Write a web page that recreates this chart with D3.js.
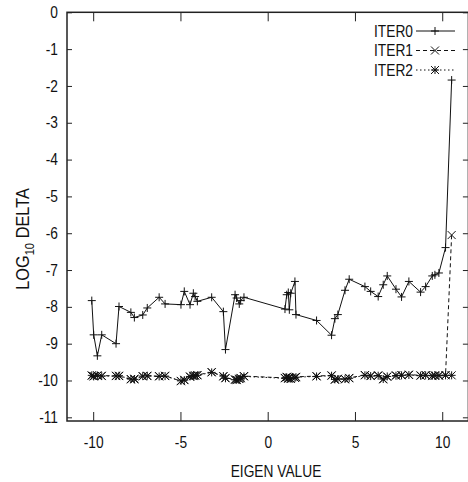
<!DOCTYPE html>
<html>
<head>
<meta charset="utf-8">
<script src="https://cdn.jsdelivr.net/npm/d3@7"></script>
<style>
  body { margin: 0; background: #fff; }
  svg { display: block; }
  text { font-family: "Liberation Sans", Arial, sans-serif; fill: #111; }
</style>
</head>
<body>
<div id="chart"></div>
<script>
// eigen values (x) shared by all three iterations
const eigen = [-10.08, -9.97, -9.76, -9.51, -8.69, -8.52, -7.84, -7.64, -7.16, -6.90,
  -6.22, -5.88, -4.97, -4.78, -4.45, -4.26, -4.16, -4.03, -3.21, -2.54,
  -2.42, -1.87, -1.78, -1.63, -1.55, -1.36, 0.99, 1.09, 1.18, 1.24,
  1.32, 1.56, 1.62, 2.80, 3.66, 3.85, 4.02, 4.43, 4.67, 5.57,
  5.90, 6.33, 6.62, 6.85, 7.35, 7.67, 8.09, 8.76, 9.05, 9.43,
  9.58, 9.81, 10.19, 10.54];

const iter0 = [-7.83, -8.76, -9.33, -8.76, -9.00, -7.99, -8.15, -8.29, -8.22, -8.03,
  -7.74, -7.92, -7.94, -7.58, -7.94, -7.63, -7.72, -7.85, -7.74, -8.13,
  -9.16, -7.67, -7.76, -7.92, -7.83, -7.74, -8.06, -7.67, -7.61, -8.08,
  -7.63, -7.31, -8.21, -8.37, -8.77, -8.32, -8.21, -7.55, -7.25, -7.45,
  -7.58, -7.72, -7.40, -7.16, -7.52, -7.73, -7.31, -7.60, -7.45, -7.16,
  -7.13, -7.08, -6.39, -1.84];

const iter1 = [-9.87, -9.88, -9.86, -9.87, -9.87, -9.88, -9.97, -9.95, -9.89, -9.88,
  -9.88, -9.87, -10.02, -9.98, -9.90, -9.88, -9.86, -9.85, -9.77, -9.89,
  -9.93, -9.97, -9.99, -9.95, -9.93, -9.88, -9.93, -9.90, -9.95, -9.92,
  -9.96, -9.92, -9.90, -9.88, -9.86, -9.98, -9.95, -9.97, -9.93, -9.85,
  -9.87, -9.86, -9.97, -9.90, -9.86, -9.85, -9.84, -9.86, -9.85, -9.88,
  -9.87, -9.86, -9.85, -6.05];

const iter2 = [-9.86, -9.89, -9.87, -9.88, -9.88, -9.87, -9.96, -9.97, -9.88, -9.87,
  -9.89, -9.88, -10.01, -9.99, -9.89, -9.87, -9.87, -9.86, -9.78, -9.88,
  -9.94, -9.98, -9.98, -9.96, -9.94, -9.89, -9.94, -9.91, -9.94, -9.93,
  -9.95, -9.93, -9.91, -9.89, -9.87, -9.97, -9.96, -9.96, -9.94, -9.86,
  -9.88, -9.87, -9.96, -9.89, -9.87, -9.86, -9.85, -9.87, -9.86, -9.87,
  -9.86, -9.87, -9.86, -9.86];

const seriesNames = ["ITER0", "ITER1", "ITER2"];
const xTicks = [-10, -5, 0, 5, 10];
const yTicks = [0, -1, -2, -3, -4, -5, -6, -7, -8, -9, -10, -11];

const W = 468, H = 482;
const plotL = 67, plotR = 468.4, plotT = 12.3, plotB = 421;
const narrow = 0.86; // the original face is a condensed sans

const svg = d3.select("#chart").append("svg")
  .attr("width", W).attr("height", H);

const x = d3.scaleLinear().domain([-11.5, 11.5]).range([plotL, plotR]);
const y = d3.scaleLinear().domain([-11.1, 0]).range([plotB, plotT]);

const fmt = d => String(d);

// axes, ticks point inward like gnuplot
const gx = svg.append("g").attr("transform", `translate(0,${plotB})`)
  .call(d3.axisBottom(x).tickValues(xTicks).tickSize(-9).tickPadding(16).tickFormat(fmt));
const gxt = svg.append("g").attr("transform", `translate(0,${plotT})`)
  .call(d3.axisTop(x).tickValues(xTicks).tickSize(-9).tickFormat(""));
const gy = svg.append("g").attr("transform", `translate(${plotL},0)`)
  .call(d3.axisLeft(y).tickValues(yTicks).tickSize(-5).tickPadding(9).tickFormat(fmt));
const gyr = svg.append("g").attr("transform", `translate(${plotR - 0.5},0)`)
  .call(d3.axisRight(y).tickValues(yTicks).tickSize(-5).tickFormat(""));

[gx, gxt, gy, gyr].forEach(g => {
  g.select(".domain").remove();
  g.selectAll(".tick line").attr("stroke", "#222").attr("stroke-width", 1);
  g.selectAll(".tick text").attr("font-size", 16).attr("fill", "#111")
    .attr("font-family", null);
});
gx.selectAll(".tick text").attr("transform", `scale(${narrow},1)`);
gy.selectAll(".tick text").attr("x", 0).attr("transform", `translate(-9,0) scale(${narrow},1)`);

// frame
svg.append("rect")
  .attr("x", plotL).attr("y", plotT)
  .attr("width", plotR - plotL).attr("height", plotB - plotT)
  .attr("fill", "none").attr("stroke", "#222").attr("stroke-width", 1.5);

// axis titles
svg.append("text")
  .attr("transform", `translate(276,477) scale(${narrow},1)`)
  .attr("text-anchor", "middle").attr("font-size", 16)
  .text("EIGEN VALUE");

const yl = svg.append("text")
  .attr("transform", `translate(29,239) rotate(-90) scale(${narrow},1)`)
  .attr("text-anchor", "middle").attr("font-size", 19);
yl.append("tspan").text("LOG");
yl.append("tspan").attr("font-size", 13).attr("dy", 5).text("10");
yl.append("tspan").attr("dy", -5).text(" DELTA");

// marker shapes
const ms = 4;
const plus = (px, py) => `M${px - ms},${py}H${px + ms}M${px},${py - ms}V${py + ms}`;
const cross = (px, py) => `M${px - ms},${py - ms}L${px + ms},${py + ms}M${px - ms},${py + ms}L${px + ms},${py - ms}`;
const star = (px, py) => plus(px, py) + cross(px, py);

const series = [
  { name: seriesNames[0], vals: iter0, dash: null, mark: plus },
  { name: seriesNames[1], vals: iter1, dash: "4,3", mark: cross },
  { name: seriesNames[2], vals: iter2, dash: "1.5,2.5", mark: star }
];

const line = d3.line().x(d => x(d[0])).y(d => y(d[1]));

series.slice().reverse().forEach(s => {
  const pts = eigen.map((e, i) => [e, s.vals[i]]);
  svg.append("path").datum(pts)
    .attr("d", line)
    .attr("fill", "none").attr("stroke", "#111").attr("stroke-width", 1)
    .attr("stroke-dasharray", s.dash);
  svg.append("path")
    .attr("d", pts.map(p => s.mark(x(p[0]), y(p[1]))).join(""))
    .attr("fill", "none").attr("stroke", "#111").attr("stroke-width", 1);
});

// legend
const legY = [31, 50.5, 70];
series.forEach((s, i) => {
  const ly = legY[i];
  svg.append("text")
    .attr("transform", `translate(413,${ly}) scale(${narrow},1)`)
    .attr("dy", "0.35em")
    .attr("text-anchor", "end").attr("font-size", 16)
    .text(s.name);
  svg.append("line")
    .attr("x1", 416).attr("x2", 455).attr("y1", ly).attr("y2", ly)
    .attr("stroke", "#111").attr("stroke-width", 1)
    .attr("stroke-dasharray", s.dash);
  svg.append("path").attr("d", s.mark(435, ly))
    .attr("fill", "none").attr("stroke", "#111").attr("stroke-width", 1);
});
</script>
</body>
</html>
